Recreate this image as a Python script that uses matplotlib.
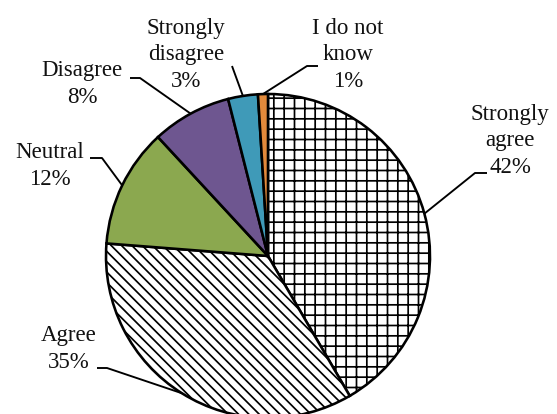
import matplotlib
matplotlib.use("Agg")
import matplotlib.pyplot as plt
import numpy as np

# data
labels = ['Strongly\nagree', 'Agree', 'Neutral', 'Disagree', 'Strongly\ndisagree', 'I do not\nknow']
percents = [42, 35, 12, 8, 3, 1]
colors = ['white', 'white', '#8BA84F', '#6E5690', '#3F9AB8', '#E38A3B']
hatches = ['+', '\\\\', '', '', '', '']

# layout (image pixel coords, y down)
W, H, DPI = 557, 414, 62
cx, cy, r = 268, 256, 162
# baseline of the last line of each label
label_xy = [(510, 173), (69, 368), (50, 185), (82, 103), (186, 87), (348, 87)]
# leader line: elbow point, end point
elbow = [(475, 173), (107, 368), (102, 158), (140, 78), (232, 66), (307, 66)]
line_end = [(487, 173), (97, 368), (90, 158), (130, 78), (232, 66), (318, 66)]

plt.rcParams['hatch.linewidth'] = 2.0
plt.rcParams['font.family'] = ['Liberation Serif', 'DejaVu Serif']

fig = plt.figure(figsize=(W / DPI, H / DPI), dpi=DPI)
ax = fig.add_axes([0, 0, 1, 1])

wedges, _ = ax.pie(percents, colors=colors, hatch=hatches, startangle=90, counterclock=False,
                   center=(cx, H - cy), radius=r,
                   wedgeprops=dict(edgecolor='black', linewidth=3.0))

lw = 2.2
for i, w in enumerate(wedges):
    mid = np.deg2rad((w.theta1 + w.theta2) / 2)
    ex = cx + r * np.cos(mid)
    ey = (H - cy) + r * np.sin(mid)
    xs = [ex, elbow[i][0], line_end[i][0]]
    ys = [ey, H - elbow[i][1], H - line_end[i][1]]
    ax.plot(xs, ys, color='black', lw=lw, solid_capstyle='butt', zorder=3)
    ax.text(label_xy[i][0], H - label_xy[i][1], f'{labels[i]}\n{percents[i]}%',
            ha='center', va='baseline', fontsize=26.5, linespacing=1.35, color='#111111')

ax.set_xlim(0, W)
ax.set_ylim(0, H)
ax.set_aspect('equal')
ax.axis('off')

fig.savefig('out.png', dpi=DPI)
